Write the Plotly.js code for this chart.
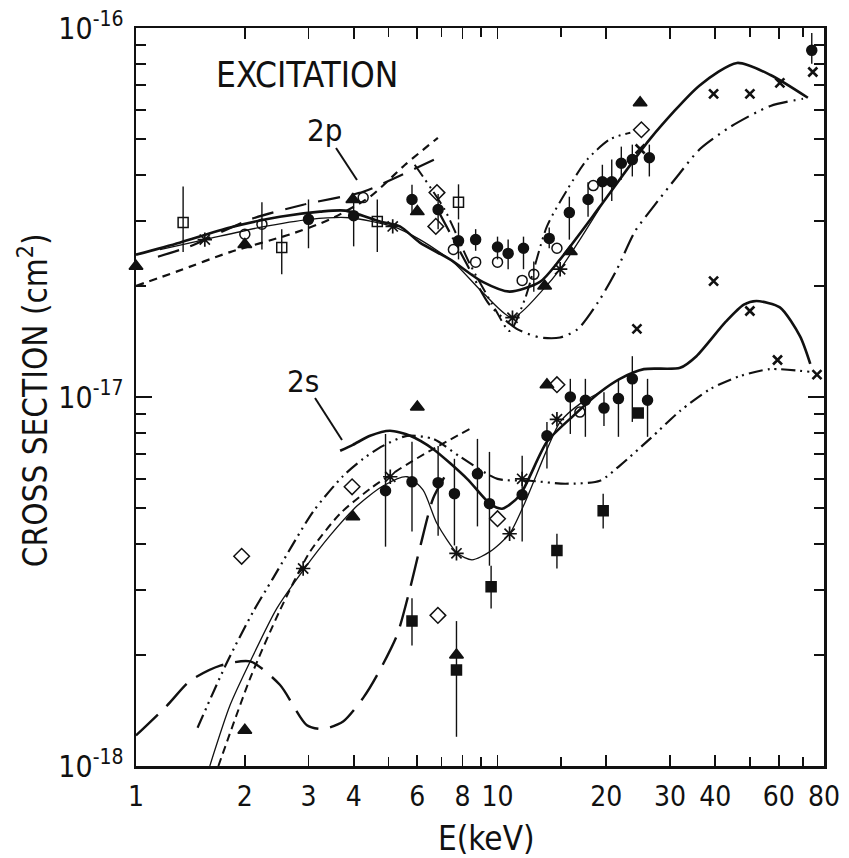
<!DOCTYPE html>
<html><head><meta charset="utf-8">
<script src="https://cdn.plot.ly/plotly-3.0.1.min.js"></script>
<style>body{margin:0;background:#fff}</style>
</head><body>
<div id="chart" style="width:849px;height:858px"></div>
<script>
// ---- theory curves, 2p ----
const p2ThickE = [1.0,1.32,1.82,2.5,3.23,3.79,4.73,5.37,6.1,7.39,9.1,10.8,13.1,14.9,19.2,26.4,36.3,46,56.9,72.2];
const p2ThickS = [2.43e-17,2.62e-17,2.88e-17,3.08e-17,3.18e-17,3.2e-17,2.99e-17,2.9e-17,2.62e-17,2.36e-17,2.05e-17,1.93e-17,2.05e-17,2.36e-17,3.28e-17,5.0e-17,7.0e-17,8.04e-17,7.46e-17,6.47e-17];
const p2ThinE = [1.165,1.55,2.2,3.03,3.9,5.13,6.1,7.55,9.1,11.0,13.4,14.9,16.9,19.2];
const p2ThinS = [2.51e-17,2.67e-17,2.88e-17,3.03e-17,3.06e-17,2.9e-17,2.67e-17,2.32e-17,1.92e-17,1.64e-17,1.96e-17,2.22e-17,2.67e-17,3.26e-17];
const p2DashE = [1.0,1.3,1.82,2.67,3.44,4.44,5.55,6.84];
const p2DashS = [2.0e-17,2.19e-17,2.47e-17,2.76e-17,3.03e-17,3.49e-17,4.26e-17,5.04e-17];
const p2LongE = [1.15,1.41,2.07,2.9,4.25,5.37,6.84];
const p2LongS = [2.4e-17,2.56e-17,3.03e-17,3.32e-17,3.6e-17,3.98e-17,4.45e-17];
const p2DdUpE = [5.9,7.14,8.39,9.85,10.8,11.9,13.7,15.6,17.7,20.5,23.3];
const p2DdUpS = [4.26e-17,3.22e-17,2.29e-17,1.73e-17,1.51e-17,1.84e-17,2.9e-17,3.65e-17,4.4e-17,5.0e-17,5.2e-17];
const p2DdLoE = [6.93,8.15,9.5,11.3,13.1,14.9,16.7,19.2,21.4,24.0,27.0,31.4,36.3,44.1,56.9,70.0];
const p2DdLoS = [3.13e-17,2.33e-17,1.78e-17,1.53e-17,1.45e-17,1.45e-17,1.53e-17,1.84e-17,2.22e-17,2.81e-17,3.28e-17,3.96e-17,4.7e-17,5.4e-17,6.15e-17,6.43e-17];
// ---- theory curves, 2s ----
const s2ThickE = [3.67,3.98,4.44,5.04,5.73,6.63,8.24,9.53,10.3,11.5,13.7,16.2,19.2,21.8,25.4,32.0,35.5,42.8,48.0,52.0,60.4,68.7,73.3];
const s2ThickS = [7.15e-18,7.42e-18,7.85e-18,8.1e-18,7.85e-18,7.23e-18,6.0e-18,5.14e-18,4.98e-18,5.4e-18,7.56e-18,8.89e-18,1.03e-17,1.12e-17,1.19e-17,1.2e-17,1.29e-17,1.6e-17,1.78e-17,1.82e-17,1.75e-17,1.46e-17,1.23e-17];
const s2ThinE = [1.6,1.82,2.07,2.45,2.9,3.44,4.09,4.82,5.62,6.22,6.8,7.75,8.5,9.53,10.8,11.8,13.7,14.9,16.9,19.2];
const s2ThinS = [1.0e-18,1.46e-18,1.92e-18,2.67e-18,3.39e-18,4.21e-18,5.07e-18,5.74e-18,6.08e-18,5.6e-18,4.54e-18,3.77e-18,3.62e-18,3.81e-18,4.26e-18,5.07e-18,7.2e-18,8.56e-18,9.58e-18,1.03e-17];
const s2DashE = [1.69,2.07,2.5,3.03,3.67,4.44,5.37,6.5,8.39];
const s2DashS = [1.0e-18,1.73e-18,2.64e-18,3.81e-18,4.83e-18,5.64e-18,6.39e-18,7.15e-18,8.2e-18];
const s2DdE = [1.48,1.79,2.11,2.39,3.09,3.74,4.25,4.82,5.62,6.63,7.88,10.0,12.3,15.4,19.2,21.8,26.4,32.0,38.7,46.9,56.9,73.3];
const s2DdS = [1.27e-18,1.92e-18,2.62e-18,3.22e-18,4.89e-18,6.11e-18,6.8e-18,7.37e-18,7.85e-18,7.7e-18,6.89e-18,6.0e-18,5.93e-18,5.82e-18,5.93e-18,6.52e-18,7.7e-18,9.17e-18,1.05e-17,1.14e-17,1.19e-17,1.17e-17];
const s2LongE = [1.0,1.22,1.41,1.71,2.07,2.5,2.97,3.29,3.74,4.25,4.64,5.27,5.73,6.1,6.63,7.14];
const s2LongS = [1.21e-18,1.46e-18,1.7e-18,1.87e-18,1.92e-18,1.66e-18,1.29e-18,1.26e-18,1.32e-18,1.53e-18,1.76e-18,2.26e-18,3.03e-18,3.9e-18,5.3e-18,6.08e-18];
// ---- measured points ----
const fcE  = [3.0,4.0,5.8,6.85,7.8,8.7,10,10.7,11.8,13.9,15.8,17.8,19.5,20.7,22.0,23.6,26.3,74, 4.9,5.8,6.85,7.6,8.8,9.5,11.7,13.7,15.9,17.5,19.7,21.6,23.6,26];
const fcS  = [3.03e-17,3.1e-17,3.43e-17,3.22e-17,2.65e-17,2.67e-17,2.55e-17,2.45e-17,2.53e-17,2.69e-17,3.16e-17,3.43e-17,3.83e-17,3.83e-17,4.3e-17,4.4e-17,4.45e-17,8.7e-17, 5.57e-18,5.89e-18,5.86e-18,5.47e-18,6.19e-18,5.14e-18,5.43e-18,7.85e-18,1.0e-17,9.8e-18,9.33e-18,9.9e-18,1.12e-17,9.8e-18];
const fcHi = [3.43e-17,3.43e-17,3.76e-17,3.55e-17,2.97e-17,2.85e-17,2.72e-17,2.67e-17,2.72e-17,2.88e-17,3.49e-17,3.82e-17,4.26e-17,4.4e-17,4.77e-17,4.83e-17,4.83e-17,9.7e-17, 7.94e-18,7.56e-18,7.37e-18,6.8e-18,7.7e-18,7.1e-18,6.93e-18,8.56e-18,1.12e-17,1.12e-17,1.03e-17,1.12e-17,1.29e-17,1.12e-17];
const fcLo = [2.53e-17,2.56e-17,3.13e-17,2.85e-17,2.36e-17,2.49e-17,2.36e-17,2.22e-17,2.22e-17,2.53e-17,2.67e-17,3.08e-17,3.38e-17,3.4e-17,3.88e-17,3.96e-17,3.96e-17,8.0e-17, 3.93e-18,4.32e-18,4.21e-18,3.96e-18,4.46e-18,3.49e-18,4.06e-18,6.4e-18,7.94e-18,7.8e-18,8.35e-18,7.8e-18,8.56e-18,7.8e-18];
const ocE  = [2.0,2.23,4.25,7.55,8.7,10,11.7,12.6,14.6,18.4,16.9];
const ocS  = [2.76e-17,2.94e-17,3.47e-17,2.51e-17,2.32e-17,2.32e-17,2.07e-17,2.15e-17,2.53e-17,3.74e-17,9.1e-18];
const ocHi = [2.76e-17,3.37e-17,3.47e-17,2.51e-17,2.32e-17,2.32e-17,2.07e-17,2.33e-17,2.53e-17,3.74e-17,9.1e-18];
const ocLo = [2.76e-17,2.51e-17,3.47e-17,2.51e-17,2.32e-17,2.32e-17,2.07e-17,1.93e-17,2.53e-17,3.74e-17,9.1e-18];
const odE  = [6.8,6.75,25,3.96,1.96,14.6,10,6.84];
const odS  = [3.58e-17,2.9e-17,5.3e-17,5.71e-18,3.7e-18,1.08e-17,4.68e-18,2.56e-18];
const osE  = [1.35,2.53,4.65,7.8];
const osS  = [2.97e-17,2.54e-17,2.99e-17,3.37e-17];
const osHi = [3.72e-17,2.85e-17,3.43e-17,3.77e-17];
const osLo = [2.47e-17,2.15e-17,2.47e-17,3.03e-17];
const ftE  = [1.0,2.0,3.98,6.0,15.9,13.5,24.8,6.0,3.98,13.7,7.7,2.0];
const ftS  = [2.26e-17,2.59e-17,3.43e-17,3.18e-17,2.48e-17,2.0e-17,6.27e-17,9.4e-18,4.74e-18,1.08e-17,2.0e-18,1.25e-18];
const fsE  = [5.8,7.7,9.6,14.6,19.6,24.5];
const fsS  = [2.47e-18,1.82e-18,3.06e-18,3.84e-18,4.92e-18,9.05e-18];
const fsHi = [2.85e-18,2.47e-18,3.49e-18,4.26e-18,5.47e-18,9.05e-18];
const fsLo = [2.12e-18,1.2e-18,2.67e-18,3.43e-18,4.4e-18,9.05e-18];
const stE  = [1.55,5.13,11.0,14.9,2.9,5.05,7.7,10.8,11.7,14.6];
const stS  = [2.67e-17,2.9e-17,1.64e-17,2.22e-17,3.43e-18,6.08e-18,3.77e-18,4.26e-18,6.0e-18,8.7e-18];
const crE  = [24.8,39.6,49.9,60.4,74.5,24.3,39.6,49.9,59.5,76.5];
const crS  = [4.7e-17,6.63e-17,6.63e-17,7.1e-17,7.6e-17,1.53e-17,2.06e-17,1.71e-17,1.26e-17,1.15e-17];
// ---- axis ticks ----
const xTickVals = [1,2,3,4,6,8,10,20,30,40,60,80];
const xTickText = ['1','2','3','4','6','8','10','20','30','40','60','80'];
const xMinor = [5,7,9,15,50,70];
const yTickVals = [1e-18,1e-17,1e-16];
const yTickText = ['10<sup>-18</sup>','10<sup>-17</sup>','10<sup>-16</sup>'];
const yMinor = [2e-18,3e-18,4e-18,5e-18,6e-18,7e-18,8e-18,9e-18,2e-17,3e-17,4e-17,5e-17,6e-17,7e-17,8e-17,9e-17];

const FONT = 'DejaVu Sans Condensed, DejaVu Sans, sans-serif';
const K = '#111';

function curve(x, y, width, dash) {
  return {x, y, type:'scatter', mode:'lines', hoverinfo:'skip',
    line:{color:K, width, dash, shape:'spline', smoothing:0.7}};
}
function pts(x, y, symbol, size, hi, lo, lw) {
  const t = {x, y, type:'scatter', mode:'markers', cliponaxis:false,
    marker:{symbol, size, color:K, line:{color:K, width: lw||1.5}}};
  if (hi) {
    t.error_y = {type:'data', symmetric:false,
      array: hi.map((h,i)=>h-y[i]), arrayminus: lo.map((l,i)=>y[i]-l),
      thickness:1.4, width:0, color:K};
  }
  return t;
}
const DD = '14px,5px,2px,5px,2px,5px';
const traces = [
  curve(p2ThickE, p2ThickS, 2.6, 'solid'),
  curve(p2ThinE, p2ThinS, 1.3, 'solid'),
  curve(p2DashE, p2DashS, 2.2, '8px,6px'),
  curve(p2LongE, p2LongS, 2.2, '22px,12px'),
  curve(p2DdUpE, p2DdUpS, 2.0, DD),
  curve(p2DdLoE, p2DdLoS, 2.2, '20px,6px,2px,6px,2px,6px'),
  curve(s2ThickE, s2ThickS, 2.6, 'solid'),
  curve(s2ThinE, s2ThinS, 1.3, 'solid'),
  curve(s2DashE, s2DashS, 2.0, '8px,5px'),
  curve(s2DdE, s2DdS, 2.2, DD),
  curve(s2LongE, s2LongS, 2.4, '30px,12px'),
  pts(fcE, fcS, 'circle', 10, fcHi, fcLo),
  pts(ocE, ocS, 'circle-open', 10, ocHi, ocLo),
  pts(odE, odS, 'diamond-open', 12),
  pts(osE, osS, 'square-open', 10, osHi, osLo),
  pts(ftE, ftS, 'triangle-up', 12),
  pts(fsE, fsS, 'square', 10, fsHi, fsLo),
  pts(stE, stS, 'asterisk-open', 12, null, null, 1.7),
  pts(crE, crS, 'x-thin-open', 9, null, null, 2.6)
];

const axBase = {type:'log', showgrid:false, zeroline:false, showline:true, linecolor:K, linewidth:2.5,
  mirror:'allticks', ticks:'inside', tickcolor:K, tickwidth:1.8, tickmode:'array'};

const layout = {
  width:849, height:858, showlegend:false,
  margin:{l:136, r:25, t:28, b:92},
  paper_bgcolor:'#fff', plot_bgcolor:'#fff',
  font:{family:FONT, color:K},
  xaxis: Object.assign({}, axBase, {range:[0, Math.log10(80)], tickvals:xTickVals, ticktext:xTickText,
    ticklen:11, ticklabelstandoff:4, tickfont:{size:28, family:FONT, color:K},
    minor:{tickmode:'array', tickvals:xMinor, ticklen:9, tickwidth:1.6, tickcolor:K, ticks:'inside'}}),
  yaxis: Object.assign({}, axBase, {range:[-18, -16], tickvals:yTickVals, ticktext:yTickText,
    ticklen:16, ticklabelstandoff:4, tickfont:{size:30, family:FONT, color:K},
    minor:{tickmode:'array', tickvals:yMinor, ticklen:10, tickwidth:1.6, tickcolor:K, ticks:'inside'}}),
  annotations:[
    {xref:'paper', yref:'paper', x:0.2485, y:0.9363, xanchor:'center', yanchor:'middle', text:'EXCITATION', showarrow:false,
      font:{size:35, family:FONT, color:K}},
    {xref:'paper', yref:'paper', x:0.2747, y:0.8618, xanchor:'center', yanchor:'middle', text:'2p', showarrow:false,
      font:{size:31, family:FONT, color:K}},
    {xref:'paper', yref:'paper', x:0.2427, y:0.5217, xanchor:'center', yanchor:'middle', text:'2s', showarrow:false,
      font:{size:31, family:FONT, color:K}},
    {xref:'paper', yref:'paper', x:-0.148, y:0.496, xanchor:'center', yanchor:'middle', text:'CROSS SECTION (cm<sup>2</sup>)', textangle:-90,
      showarrow:false, font:{size:33, family:FONT, color:K}},
    {xref:'paper', yref:'paper', x:0.51, y:-0.0976, xanchor:'center', yanchor:'middle', text:'E(keV)', showarrow:false,
      font:{size:33, family:FONT, color:K}}
  ],
  shapes:[
    {type:'line', xref:'paper', yref:'paper', x0:0.2907, y0:0.8374, x1:0.3212, y1:0.794, line:{color:K, width:2}},
    {type:'line', xref:'paper', yref:'paper', x0:0.2602, y0:0.4986, x1:0.2994, y1:0.4417, line:{color:K, width:2}}
  ]
};
Plotly.newPlot('chart', traces, layout, {staticPlot:true, displayModeBar:false});
</script>
</body></html>
